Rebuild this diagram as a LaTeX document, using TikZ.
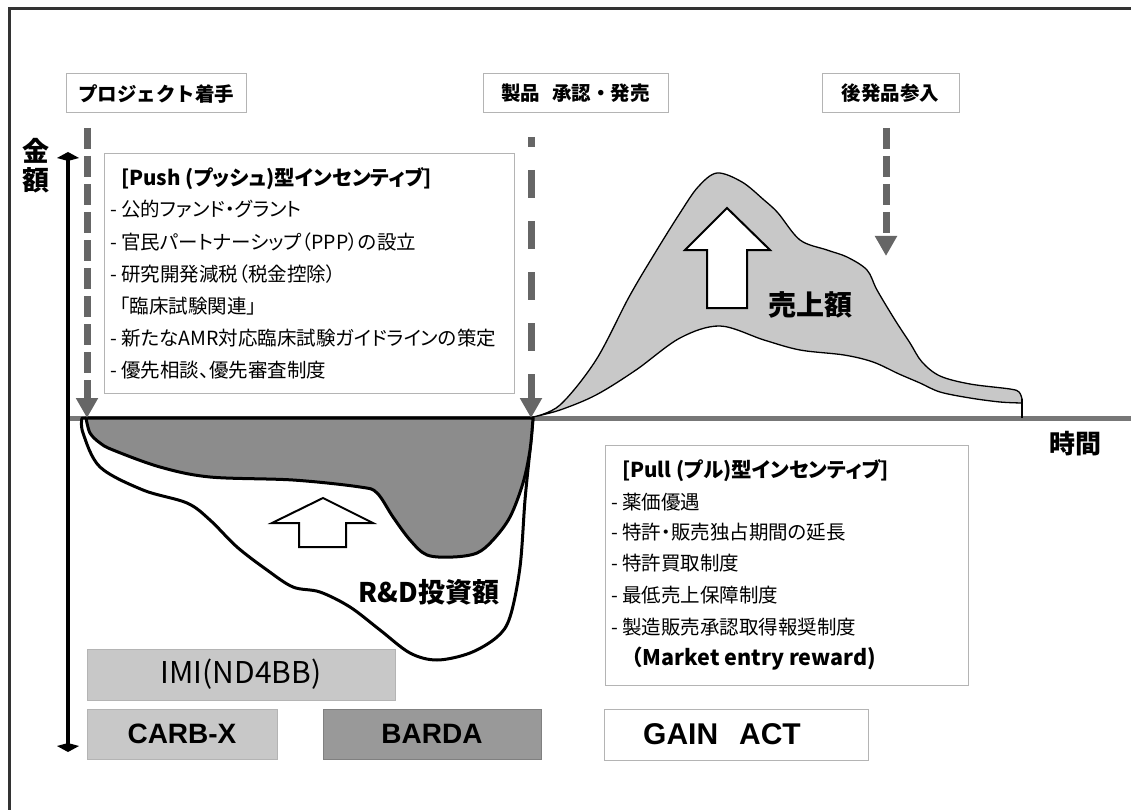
\documentclass[tikz,border=0pt]{standalone}
\usepackage{fontspec}
\setmainfont{Liberation Sans}
\newfontfamily\jp[RawFeature=+palt]{Noto Sans CJK JP}
\newfontfamily\jpf{Noto Sans CJK JP}
\usetikzlibrary{arrows.meta}
\definecolor{frameC}{HTML}{333333}
\definecolor{axisG}{HTML}{777777}
\definecolor{dashG}{HTML}{666666}
\definecolor{boxB}{HTML}{B4B4B4}
\definecolor{lightF}{HTML}{C8C8C8}
\definecolor{darkF}{HTML}{8C8C8C}
\definecolor{bardaF}{HTML}{999999}
\definecolor{bardaB}{HTML}{808080}
\tikzset{
  labelbox/.style={draw=boxB, line width=1pt, fill=white, minimum height=39pt, inner sep=0pt, font=\jpf\bfseries\fontsize{19.5}{20}\selectfont},
  listbox/.style={draw=boxB, line width=1pt, fill=white, inner sep=0pt},
  jline/.style={anchor=west, inner sep=0pt, text height=17pt, text depth=2.5pt, font=\jp\fontsize{19.5}{20}\selectfont},
  jtitle/.style={jline, font=\jp\bfseries\fontsize{20.5}{21}\selectfont},
  dasharrow/.style={draw=dashG, line width=7pt, -{Triangle[length=20pt,width=21pt]}},
  fundbox/.style={line width=1pt, inner sep=0pt, minimum height=50pt, font=\bfseries\fontsize{28}{28}\selectfont},
  blockarrow/.style={fill=white, draw=black, line width=2pt, line join=miter},
  bigbold/.style={inner sep=0pt, font=\jpf\bfseries\fontsize{27}{28}\selectfont}
}
\begin{document}
\begin{tikzpicture}[x=1pt,y=-1pt]
\useasboundingbox (0,0) rectangle (1131,810);
% outer frame
\draw[frameC, line width=3pt] (9,810) -- (9,8.5) -- (1131,8.5);

% horizontal time axis
\coordinate (xs) at (68,418);
\coordinate (xe) at (1131,418);
\draw[axisG, line width=5pt] (xs) -- (xe);

% sales area
\filldraw[fill=lightF, draw=black, line width=1.3pt, line join=round]
  plot[smooth, tension=0.55] coordinates {(533,417) (560,405) (596,360) (629,297) (655,253) (680,213) (698,187) (717,173) (742,182) (764,200) (778,213) (800,240) (827,250) (847,257) (867,270) (877,290) (895,320) (910,343) (922,362) (940,376) (970,384) (1010,389) (1019,392) (1022,399)}
  -- plot[smooth, tension=0.55] coordinates {(1022,403) (1000,402) (970,398) (940,392) (920,383) (899,374) (873,362) (844,355) (800,350) (764,340) (720,326) (680,338) (636,370) (596,395) (560,410) (533,417)} -- cycle;
\draw[black, line width=1.3pt] (1022,399) -- (1022,418);

% R&D outer
\filldraw[fill=white, draw=black, line width=3pt, line join=round]
  (533,418) -- (82,418) -- plot[smooth, tension=0.55] coordinates {(82,418) (83,433) (100,467) (143,490) (187,503) (210,520) (237,547) (267,570) (293,587) (320,592) (350,607) (380,630) (410,653) (437,660) (470,653) (497,637) (510,617) (520,567) (525,500) (530,450) (533,418)} -- cycle;
% R&D inner
\filldraw[fill=darkF, draw=black, line width=3pt, line join=round]
  (533,418) -- (86,418) -- plot[smooth, tension=0.55] coordinates {(86,418) (90,433) (100,443) (113,450) (160,467) (210,477) (293,480) (360,487) (377,493) (393,517) (410,540) (427,555) (453,557) (477,553) (493,540) (510,517) (523,483) (530,450) (533,418)} -- cycle;

% block arrows
\draw[blockarrow] (323,498) -- (373,523) -- (346,523) -- (346,547) -- (299,547) -- (299,523) -- (272,523) -- cycle;
\draw[blockarrow] (727,208) -- (770,250) -- (747,250) -- (747,308) -- (707,308) -- (707,250) -- (685,250) -- cycle;

% area labels
\node[bigbold] (rd) at (429,592) {R\&D投資額};
\node[bigbold, font=\jpf\bfseries\fontsize{28}{28}\selectfont] (uriage) at (810,305) {売上額};

% top labels
\node[labelbox, minimum width=180pt] (lbl1) at (156,93.5) {プロジェクト着手};
\node[labelbox, minimum width=185pt] (lbl2) at (575.5,93.5) {製品\hspace{0.6em}承認・発売};
\node[labelbox, minimum width=137pt] (lbl3) at (890.5,93.5) {後発品参入};

% dashed arrows
\coordinate (a1s) at (87,128);
\coordinate (a1e) at (87,418);
\coordinate (a2s) at (531,137);
\coordinate (a2e) at (531,418);
\coordinate (a3s) at (886,128);
\coordinate (a3e) at (886,256);
\draw[dasharrow, dash pattern=on 21pt off 7pt] (a1s) -- (a1e);
\draw[dasharrow, dash pattern=on 28pt off 23pt, dash phase=18pt] (a2s) -- (a2e);
\draw[dasharrow, dash pattern=on 21pt off 7pt] (a3s) -- (a3e);

% push box
\node[listbox, minimum width=410pt, minimum height=239pt] (push) at (309,273.5) {};
\node[jtitle] (p0) at (121,178) {[Push (プッシュ)型インセンティブ]};
\node[jline] (p1) at (110,209) {- 公的ファンド・グラント};
\node[jline] (p2) at (110,242) {- 官民パートナーシップ（PPP）の設立};
\node[jline] (p3) at (110,274) {- 研究開発減税（税金控除）};
\node[jline] (p4) at (120,306) {「臨床試験関連」};
\node[jline] (p5) at (110,338) {- 新たなAMR対応臨床試験ガイドラインの策定};
\node[jline] (p6) at (110,370) {- 優先相談、優先審査制度};

% pull box
\node[listbox, minimum width=363pt, minimum height=240pt] (pull) at (786.5,565) {};
\node[jtitle] (q0) at (622,470) {[Pull (プル)型インセンティブ]};
\node[jline] (q1) at (611,502) {- 薬価優遇};
\node[jline] (q2) at (611,532) {- 特許・販売独占期間の延長};
\node[jline] (q3) at (611,563) {- 特許買取制度};
\node[jline] (q4) at (611,595) {- 最低売上保障制度};
\node[jline] (q5) at (611,627) {- 製造販売承認取得報奨制度};
\node[jline, font=\jpf\bfseries\fontsize{21.5}{22}\selectfont] (q6) at (621,658) {（Market entry reward)};

% funding boxes
\node[fundbox, fill=lightF, draw=boxB, minimum width=308pt, minimum height=51pt, font=\jpf\fontsize{30}{30}\selectfont] (imi) at (241,674.5) {IMI(ND4BB)};
\node[fundbox, fill=lightF, draw=boxB, minimum width=190pt] (carb) at (182,734) {CARB-X};
\node[fundbox, fill=bardaF, draw=bardaB, minimum width=218pt] (barda) at (432,734) {BARDA};
\node[fundbox, fill=white, draw=boxB, minimum width=264pt, minimum height=51pt, font=\bfseries\fontsize{30}{30}\selectfont] (gain) at (736,734.5) {\hspace{-28pt}GAIN\hspace{0.7em}ACT};

% vertical money axis
\coordinate (yb) at (68,752);
\coordinate (yt) at (68,152);
\draw[black, line width=4pt, {Kite[length=9pt,width=22pt,inset=3pt]}-{Kite[length=9pt,width=22pt,inset=3pt]}] (yb) -- (yt);

% axis labels
\node[inner sep=0pt, align=center, font=\jpf\bfseries\fontsize{27}{29}\selectfont] (kingaku) at (36,166) {金\\額};
\node[inner sep=0pt, font=\jpf\bfseries\fontsize{26}{26}\selectfont] (jikan) at (1075,444) {時間};
\end{tikzpicture}
\end{document}
